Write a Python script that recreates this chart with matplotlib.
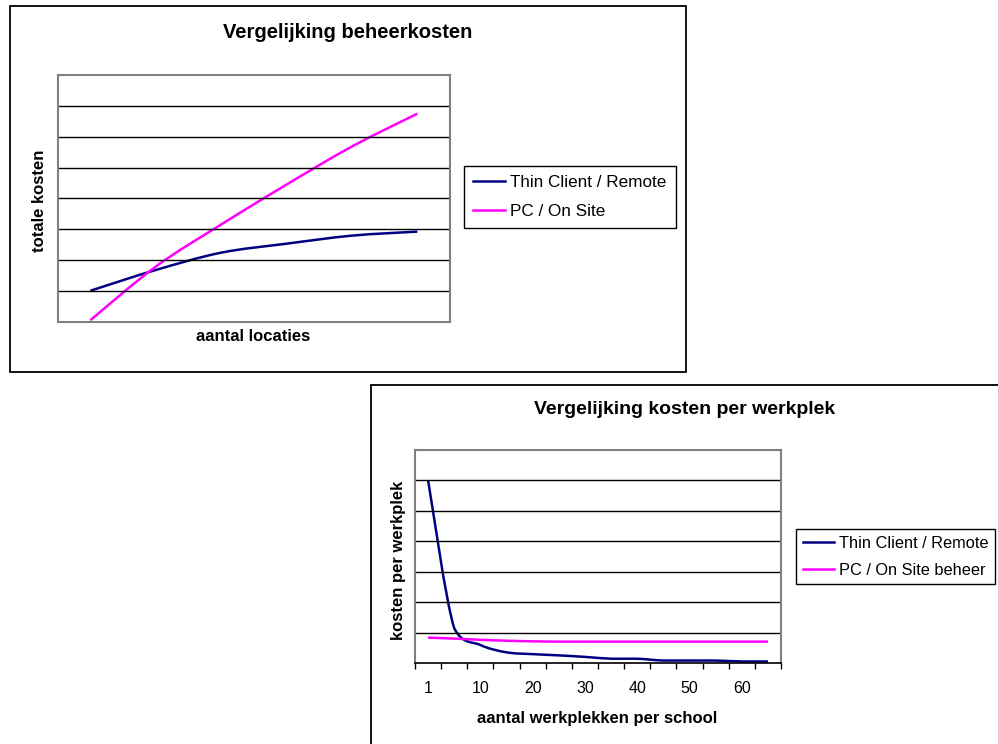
import numpy as np
import matplotlib
matplotlib.use("Agg")
import matplotlib.pyplot as plt
from matplotlib.path import Path
from matplotlib.patches import PathPatch, Rectangle
from matplotlib.lines import Line2D

plt.rcParams['font.family'] = ['Liberation Sans', 'DejaVu Sans']

# --- data ---
# chart 1: total cost vs number of locations (no axis values shown)
locaties = [1, 2, 3, 4, 5, 6]
thin_totaal = [1.02, 1.69, 2.25, 2.54, 2.80, 2.93]
pc_totaal = [0.07, 1.80, 3.16, 4.45, 5.68, 6.74]

# chart 2: cost per workplace vs workplaces per school
werkplekken = ['1', '5', '10', '15', '20', '25', '30', '35', '40', '45', '50', '55', '60', '65']
tick_labels = ['1', '10', '20', '30', '40', '50', '60']
thin_per_plek = [6.00, 1.15, 0.60, 0.36, 0.30, 0.26, 0.21, 0.15, 0.15, 0.09, 0.09, 0.09, 0.06, 0.06]
pc_per_plek = [0.84, 0.81, 0.77, 0.74, 0.72, 0.71, 0.71, 0.71, 0.71, 0.71, 0.71, 0.71, 0.71, 0.71]

NAVY = '#000080'
PINK = '#FF00FF'
W, H = 998, 744


def smooth_line(ax, ys, color):
    # Excel style "smoothed line": bezier segments through the points,
    # control points kept inside each segment so the curve does not overshoot
    pts = np.column_stack([np.arange(len(ys)), ys]).astype(float)
    verts = [pts[0]]
    codes = [Path.MOVETO]
    for i in range(len(pts) - 1):
        p0 = pts[i - 1] if i > 0 else pts[i]
        p1, p2 = pts[i], pts[i + 1]
        p3 = pts[i + 2] if i + 2 < len(pts) else pts[i + 1]
        c1 = p1 + (p2 - p0) / 6
        c2 = p2 - (p3 - p1) / 6
        lo, hi = min(p1[1], p2[1]), max(p1[1], p2[1])
        c1[1] = np.clip(c1[1], lo, hi)
        c2[1] = np.clip(c2[1], lo, hi)
        verts += [c1, c2, p2]
        codes += [Path.CURVE4] * 3
    ax.add_patch(PathPatch(Path(verts, codes), fill=False, edgecolor=color,
                           lw=1.8, capstyle='butt'))


def fx(px):
    return px / W


def fy(py):
    return 1 - py / H


def style_axes(ax, n, top):
    ax.set_xlim(-0.5, n - 0.5)
    ax.set_ylim(0, top)
    ax.set_yticks(range(1, top))
    ax.yaxis.grid(True, color='black', lw=1.0)
    ax.tick_params(axis='y', length=0, labelleft=False)
    for s in ax.spines.values():
        s.set_color('#808080')
        s.set_linewidth(1.5)


fig = plt.figure(figsize=(W / 100, H / 100), dpi=100)

# outer chart frames
fig.add_artist(Rectangle((fx(10), fy(372)), fx(676), 366 / H, fill=False,
                         edgecolor='black', lw=1.3, transform=fig.transFigure))
fig.add_artist(Rectangle((fx(371), -0.05), 0.7, 1 - 385 / H + 0.05, fill=False,
                         edgecolor='black', lw=1.3, transform=fig.transFigure))

# --- chart 1 ---
ax1 = fig.add_axes([fx(57.7), fy(322.3), fx(450 - 57.7), (322.3 - 74.7) / H])
style_axes(ax1, len(locaties), 8)
ax1.set_xticks([])
smooth_line(ax1, thin_totaal, NAVY)
smooth_line(ax1, pc_totaal, PINK)

fig.text(fx(347.5), fy(33), 'Vergelijking beheerkosten', ha='center', va='center',
         fontsize=14.5, fontweight='bold')
fig.text(fx(39.3), fy(201), 'totale kosten', ha='center', va='center', rotation=90,
         fontsize=12, fontweight='bold')
fig.text(fx(253), fy(336), 'aantal locaties', ha='center', va='center',
         fontsize=12, fontweight='bold')

h1 = [Line2D([], [], color=NAVY, lw=1.8), Line2D([], [], color=PINK, lw=1.8)]
leg1 = fig.legend(h1, ['Thin Client / Remote', 'PC / On Site'], loc='upper left',
                  bbox_to_anchor=(fx(464), fy(166)), borderaxespad=0, fontsize=12.3,
                  fancybox=False, edgecolor='black', framealpha=1, handlelength=1.85,
                  handletextpad=0.3, labelspacing=0.8, borderpad=0.55)
leg1.get_frame().set_linewidth(1.0)

# --- chart 2 ---
ax2 = fig.add_axes([fx(415), fy(663.3), fx(781 - 415), (663.3 - 449.7) / H])
style_axes(ax2, len(werkplekken), 7)
ax2.spines['bottom'].set_color('black')
ax2.spines['bottom'].set_linewidth(1.2)
ax2.set_xticks(np.arange(len(werkplekken) + 1) - 0.5)
ax2.set_xticklabels([])
ax2.tick_params(axis='x', which='major', length=4.5, width=1.0, color='black')
ax2.set_xticks(range(0, len(werkplekken), 2), minor=True)
ax2.set_xticklabels(tick_labels, minor=True)
ax2.tick_params(axis='x', which='minor', length=0, pad=13, labelsize=11.5)
smooth_line(ax2, thin_per_plek, NAVY)
smooth_line(ax2, pc_per_plek, PINK)

fig.text(fx(685), fy(410), 'Vergelijking kosten per werkplek', ha='center', va='center',
         fontsize=14, fontweight='bold')
fig.text(fx(398.3), fy(560), 'kosten per werkplek', ha='center', va='center', rotation=90,
         fontsize=12, fontweight='bold')
fig.text(fx(597.5), fy(719), 'aantal werkplekken per school', ha='center', va='center',
         fontsize=12, fontweight='bold')

h2 = [Line2D([], [], color=NAVY, lw=1.8), Line2D([], [], color=PINK, lw=1.8)]
leg2 = fig.legend(h2, ['Thin Client / Remote', 'PC / On Site beheer'], loc='upper left',
                  bbox_to_anchor=(fx(796), fy(529)), borderaxespad=0, fontsize=11.8,
                  fancybox=False, edgecolor='black', framealpha=1, handlelength=1.9,
                  handletextpad=0.3, labelspacing=0.75, borderpad=0.4)
leg2.get_frame().set_linewidth(1.0)

fig.savefig('out.png', dpi=100)
